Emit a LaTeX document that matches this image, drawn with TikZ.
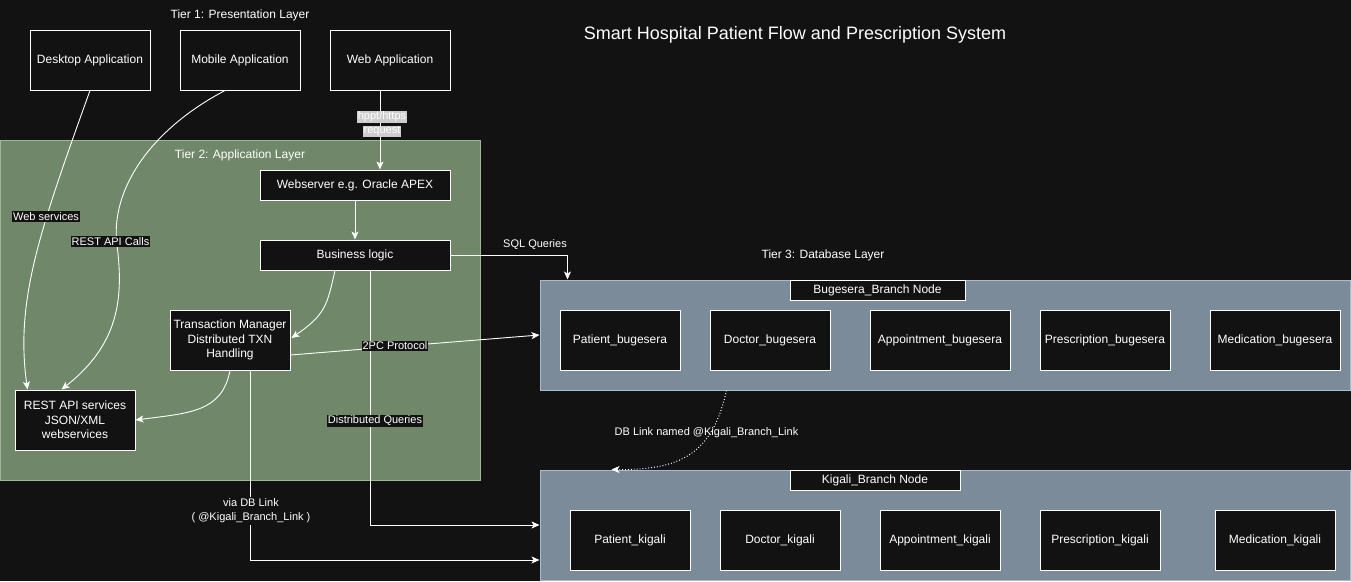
\documentclass[tikz,border=0pt]{standalone}
\usepackage{fontspec}
\setmainfont{Liberation Sans}
\usetikzlibrary{arrows.meta,calc}

\definecolor{canvas}{HTML}{121212}
\definecolor{appfill}{RGB}{112,135,106}
\definecolor{appline}{RGB}{160,182,155}
\definecolor{dbfill}{RGB}{123,139,154}
\definecolor{dbline}{RGB}{172,188,204}
\definecolor{reqfill}{RGB}{205,205,205}

\begin{document}
\begin{tikzpicture}[x=1pt,y=-1pt,
  every node/.style={text=white, font=\fontsize{12}{14.5}\selectfont},
  box/.style={draw=white, line width=1pt, fill=canvas, minimum width=120pt,
    minimum height=60pt, inner sep=2pt, align=center},
  wide/.style={box, minimum width=190pt, minimum height=30pt},
  caption/.style={draw=white, line width=1pt, fill=canvas, minimum height=20pt,
    inner sep=0pt},
  tier/.style={font=\fontsize{12}{14}\selectfont},
  zone/.style={inner sep=0pt, line width=1pt},
  flow/.style={draw=white, line width=0.9pt, -{Stealth[length=8pt,width=7pt,inset=2pt]}},
  link/.style={flow, dotted, line width=1pt},
  tag/.style={font=\fontsize{11}{13}\selectfont, fill=canvas, inner xsep=1pt,
    inner ysep=1pt, align=center},
  plaintag/.style={font=\fontsize{11}{13}\selectfont, inner sep=1pt, align=center},
  reqtag/.style={font=\fontsize{11}{13}\selectfont, fill=reqfill, inner xsep=1pt,
    inner ysep=1pt}
]
% canvas
\fill[canvas] (0,0) rectangle (1351,581);
\useasboundingbox (0,0) rectangle (1351,581);

% layer regions
\node[zone, draw=appline, fill=appfill, minimum width=480pt, minimum height=340pt] (tier2) at (240,310) {};
\node[zone, draw=dbline, fill=dbfill, minimum width=810pt, minimum height=110pt] (bug) at (945,335) {};
\node[zone, draw=dbline, fill=dbfill, minimum width=810pt, minimum height=110pt] (kig) at (945,525) {};

% titles
\node[font=\fontsize{18}{21}\selectfont] (title) at (795,35) {Smart Hospital Patient Flow and Prescription System};
\node[tier] (t1) at (240,15) {Tier 1: Presentation Layer};
\node[tier] (t2) at (240,155) {Tier 2: Application Layer};
\node[tier] (t3) at (823,255) {Tier 3: Database Layer};

% tier 1 clients
\node[box] (desk) at (90,60) {Desktop Application};
\node[box] (mob) at (240,60) {Mobile Application};
\node[box] (web) at (390,60) {Web Application};

% tier 2 components
\node[wide] (websrv) at (355,185) {Webserver e.g. Oracle APEX};
\node[wide] (blogic) at (355,255) {Business logic};
\node[box] (txn) at (230,340) {Transaction Manager\\Distributed TXN\\Handling};
\node[box] (rest) at (75,420) {REST API services\\JSON/XML\\webservices};

% tier 3: Bugesera branch
\node[caption, minimum width=175pt] (buglbl) at (877.5,290) {Bugesera\_Branch Node};
\node[box] (patb) at (620,340) {Patient\_bugesera};
\node[box] (docb) at (770,340) {Doctor\_bugesera};
\node[box, minimum width=140pt] (appb) at (940,340) {Appointment\_bugesera};
\node[box, minimum width=130pt] (preb) at (1105,340) {Prescription\_bugesera};
\node[box, minimum width=130pt] (medb) at (1275,340) {Medication\_bugesera};

% tier 3: Kigali branch
\node[caption, minimum width=170pt] (kiglbl) at (875,480) {Kigali\_Branch Node};
\node[box] (patk) at (630,540) {Patient\_kigali};
\node[box] (dock) at (780,540) {Doctor\_kigali};
\node[box] (appk) at (940,540) {Appointment\_kigali};
\node[box] (prek) at (1100,540) {Prescription\_kigali};
\node[box] (medk) at (1275,540) {Medication\_kigali};

% connectors
\draw[flow] (desk.south) .. controls (40,230) and (15,300) .. ($(rest.north west)+(13,0)$);
\draw[flow] ($(mob.south)+(-15,0)$) .. controls (150,130) and (110,190) .. (117,245)
  .. controls (124,300) and (118,345) .. ($(rest.north west)+(47,0)$);
\draw[flow] ($(web.south)+(-10,0)$) -- ($(websrv.north)+(25,0)$);
\draw[flow] (websrv.south) -- (blogic.north);
\draw[flow] ($(blogic.south)+(-20,0)$) .. controls (327,305) and (326,314) .. ($(txn.east)+(1,-2)$);
\draw[flow] (txn.south) .. controls (222,412) and (190,413) .. (rest.east);
\draw[flow] ($(txn.east)+(0,15)$) -- (bug.west);
\draw[flow] ($(txn.south)+(20,0)$) |- ($(kig.west)+(0,35)$);
\draw[flow] ($(blogic.south)+(15,0)$) |- (kig.west);
\draw[flow] (blogic.east) -| ($(bug.north west)+(28,0)$);
\draw[link] ($(bug.south west)+(187,0)$) .. controls (712,455) and (680,470) .. ($(kig.north west)+(72,0)$);

% connector labels
\node[tag] (lws) at (46,216.5) {Web services};
\node[tag] (lrest) at (110.5,241.5) {REST API Calls};
\node[reqtag] (lreq1) at (382,117) {hppt/https};
\node[reqtag] (lreq2) at (382,131.5) {request};
\node[tag] (l2pc) at (395,346) {2PC Protocol};
\node[tag] (ldist) at (375,421) {Distributed Queries};
\node[tag, font=\fontsize{11}{14}\selectfont, inner ysep=2pt] (lvia) at (251,511) {via DB Link\\( @Kigali\_Branch\_Link )};
\node[plaintag] (lsql) at (535,245) {SQL Queries};
\node[plaintag] (ldbl) at (706.5,432.5) {DB Link named @Kigali\_Branch\_Link};
\end{tikzpicture}
\end{document}
